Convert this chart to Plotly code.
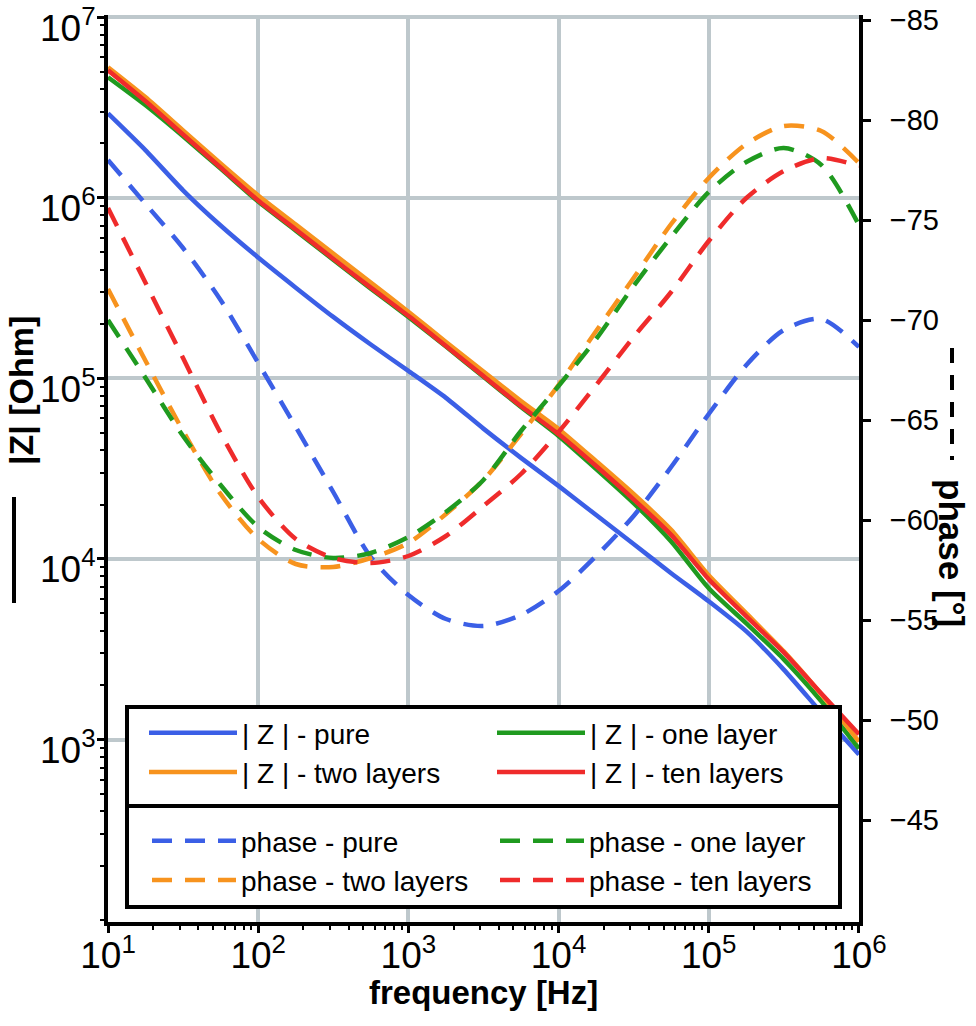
import math
import plotly.graph_objects as go

# ---------------- data ----------------
freq = [10, 17.8, 31.6, 56.2, 100, 178, 316, 562, 1000, 1780, 3160, 5620,
        1e4, 1.78e4, 3.16e4, 5.62e4, 1e5, 1.78e5, 3.16e5, 5.62e5, 1e6]

z_pure = [2.93e6, 1.83e6, 1.10e6, 7.02e5, 4.67e5, 3.18e5, 2.19e5, 1.54e5, 1.10e5, 7.80e4, 5.27e4,
          3.63e4, 2.54e4, 1.75e4, 1.21e4, 8.34e3, 5.83e3, 3.97e3, 2.44e3, 1.41e3, 826]
z_one = [4.65e6, 3.25e6, 2.19e6, 1.45e6, 9.53e5, 6.58e5, 4.54e5, 3.14e5, 2.19e5, 1.50e5, 1.02e5,
         6.95e4, 4.80e4, 3.15e4, 2.04e4, 1.25e4, 6.89e3, 4.40e3, 2.78e3, 1.63e3, 891]
z_two = [5.28e6, 3.60e6, 2.36e6, 1.55e6, 1.03e6, 7.11e5, 4.91e5, 3.39e5, 2.34e5, 1.59e5, 1.09e5,
         7.50e4, 5.25e4, 3.48e4, 2.29e4, 1.45e4, 8.13e3, 5.00e3, 3.08e3, 1.78e3, 975]
z_ten = [5.08e6, 3.42e6, 2.24e6, 1.47e6, 9.66e5, 6.67e5, 4.60e5, 3.18e5, 2.22e5, 1.51e5, 1.03e5,
         7.03e4, 4.92e4, 3.27e4, 2.14e4, 1.36e4, 7.72e3, 4.81e3, 3.04e3, 1.80e3, 1.07e3]

ph_pure = [-78.0, -75.8, -73.6, -71.0, -67.85, -64.65, -61.4, -58.15, -56.25, -55.05, -54.7,
           -55.25, -56.45, -58.2, -60.2, -62.65, -65.3, -67.75, -69.5, -70.05, -68.65]
ph_one = [-70.0, -67.1, -64.2, -61.75, -59.65, -58.5, -58.1, -58.35, -59.15, -60.4, -62.0,
          -64.45, -66.7, -69.05, -71.7, -74.15, -76.4, -77.9, -78.6, -77.75, -74.75]
ph_two = [-71.55, -67.95, -64.45, -61.3, -59.05, -57.8, -57.65, -58.1, -58.85, -60.3, -62.0,
          -64.3, -66.75, -69.45, -72.1, -74.8, -77.1, -78.8, -79.7, -79.45, -77.85]
ph_ten = [-75.6, -71.85, -68.1, -64.35, -61.15, -59.05, -58.1, -57.85, -58.2, -59.2, -60.7,
          -62.3, -64.4, -66.75, -69.15, -71.4, -73.95, -76.1, -77.45, -78.1, -77.7]

x_tickvals = [10, 100, 1000, 1e4, 1e5, 1e6]
x_ticktext = ["10<sup>1</sup>", "10<sup>2</sup>", "10<sup>3</sup>", "10<sup>4</sup>", "10<sup>5</sup>", "10<sup>6</sup>"]
y_tickvals = [1e3, 1e4, 1e5, 1e6, 1e7]
y_ticktext = ["10<sup>3</sup>", "10<sup>4</sup>", "10<sup>5</sup>", "10<sup>6</sup>", "10<sup>7</sup>"]
ph_tickvals = [-85, -80, -75, -70, -65, -60, -55, -50, -45]

# ---------------- style ----------------
FONT = "Liberation Sans, Arial, sans-serif"
BLUE, GREEN, ORANGE, RED = "#3b5fe6", "#1f9a1f", "#f7931e", "#ef2b2b"
GRID = "#bec8cc"
DASH = "20px,13px"

fig = go.Figure()

z_series = [("| Z | - pure", z_pure, BLUE, 1), ("| Z | - one layer", z_one, GREEN, 2),
            ("| Z | - two layers", z_two, ORANGE, 3), ("| Z | - ten layers", z_ten, RED, 4)]
for name, vals, col, rank in z_series:
    fig.add_trace(go.Scatter(x=freq, y=vals, name=name, mode="lines", legend="legend",
                             legendrank=rank,
                             line=dict(color=col, width=4.5, shape="spline", smoothing=0.6)))

ph_series = [("phase - pure", ph_pure, BLUE, 1), ("phase - two layers", ph_two, ORANGE, 3),
             ("phase - one layer", ph_one, GREEN, 2), ("phase - ten layers", ph_ten, RED, 4)]
for name, vals, col, rank in ph_series:
    fig.add_trace(go.Scatter(x=freq, y=vals, name=name, mode="lines", yaxis="y2", legend="legend2",
                             legendrank=rank,
                             line=dict(color=col, width=4.5, dash=DASH, shape="spline", smoothing=0.8)))

W, H = 976, 1026
PL, PR, PT, PB = 108, 859, 15, 922          # plot area in pixels
L, T, R, B = PL, PT, W - PR, H - PB
pw, ph = W - L - R, H - T - B


def px(xr):
    return (xr - L) / pw


def py(yr):
    return (H - B - yr) / ph


axis_common = dict(showline=True, linecolor="black", linewidth=4, ticks="outside", ticklen=7,
                   tickwidth=3, tickcolor="black", zeroline=False, ticklabeloverflow="allow",
                   tickfont=dict(family=FONT, size=37, color="black"))

fig.update_layout(
    width=W, height=H, margin=dict(l=L, r=R, t=T, b=B, autoexpand=False),
    paper_bgcolor="white", plot_bgcolor="white",
    font=dict(family=FONT, color="black"),
    xaxis=dict(type="log", range=[1, 6.0005], showgrid=True, gridcolor=GRID, gridwidth=4,
               tickmode="array", tickvals=x_tickvals, ticktext=x_ticktext, ticklabelstandoff=-9,
               minor=dict(ticks="outside", ticklen=4, tickwidth=2, tickcolor="black",
                          showgrid=False, dtick="D1"),
               **axis_common),
    yaxis=dict(type="log", range=[1.99, 7.012], showgrid=True, gridcolor=GRID, gridwidth=4,
               tickmode="array", tickvals=y_tickvals, showticklabels=False,
               minor=dict(ticks="outside", ticklen=4, tickwidth=2, tickcolor="black",
                          showgrid=False, dtick="D1"),
               **axis_common),
    yaxis2=dict(overlaying="y", side="right", anchor="x", range=[-39.9, -85.25],
                showgrid=False, showline=True, linecolor="black", linewidth=4,
                ticks="outside", ticklen=8, tickwidth=3, tickcolor="black", zeroline=False,
                tickmode="array", tickvals=ph_tickvals, ticklabelstandoff=13,
                ticklabeloverflow="allow",
                tickfont=dict(family=FONT, size=29, color="black")),
    yaxis3=dict(overlaying="y", side="right", anchor="x", range=[-39.9, -85.25],
                showgrid=False, showline=False, ticks="inside", ticklen=8, tickwidth=3,
                tickcolor="black", zeroline=False, showticklabels=False,
                tickmode="array", tickvals=ph_tickvals),
    legend=dict(x=px(144), y=py(708), xanchor="left", yanchor="top", orientation="h",
                entrywidth=245, entrywidthmode="pixels", itemwidth=88,
                bgcolor="rgba(0,0,0,0)", borderwidth=0,
                font=dict(family=FONT, size=28, color="black")),
    legend2=dict(x=px(147), y=py(816), xanchor="left", yanchor="top", orientation="h",
                 entrywidth=249, entrywidthmode="pixels", itemwidth=84,
                 bgcolor="rgba(0,0,0,0)", borderwidth=0,
                 font=dict(family=FONT, size=28, color="black")),
    showlegend=True,
)

# |Z| tick labels (placed a little below their ticks, as in the reference)
for v, t in zip(y_tickvals, y_ticktext):
    fig.add_annotation(text=t, xref="paper", yref="y", x=0, y=math.log10(v), xanchor="right",
                       yanchor="middle", xshift=-10, yshift=-8, showarrow=False,
                       font=dict(family=FONT, size=37, color="black"))

# legend frame (white box with separator)
fig.add_shape(type="rect", xref="paper", yref="paper", x0=px(127), x1=px(840), y0=py(907), y1=py(707),
              fillcolor="white", line=dict(color="black", width=4), layer="above")
fig.add_shape(type="line", xref="paper", yref="paper", x0=px(127), x1=px(840), y0=py(806), y1=py(806),
              line=dict(color="black", width=4), layer="above")

# axis titles with their line-style keys
fig.add_shape(type="line", xref="paper", yref="paper", x0=px(14), x1=px(14), y0=py(603), y1=py(497),
              line=dict(color="black", width=4))
fig.add_shape(type="line", xref="paper", yref="paper", x0=px(952), x1=px(952), y0=py(348), y1=py(460),
              line=dict(color="black", width=4, dash="15px,12px"))

fig.add_annotation(text="<b>|Z| [Ohm]</b>", xref="paper", yref="paper", x=px(21), y=py(391),
                   textangle=-90, showarrow=False, xanchor="center", yanchor="middle",
                   font=dict(family=FONT, size=34, color="black"))
fig.add_annotation(text="<b>phase [°]</b>", xref="paper", yref="paper", x=px(952), y=py(553),
                   textangle=90, showarrow=False, xanchor="center", yanchor="middle",
                   font=dict(family=FONT, size=35, color="black"))
fig.add_annotation(text="<b>frequency [Hz]</b>", xref="paper", yref="paper", x=0.5, y=py(992),
                   showarrow=False, xanchor="center", yanchor="middle",
                   font=dict(family=FONT, size=33, color="black"))

# remove the browser's default page margin so the figure sits at the window's corner
fig.write_html("out.html", config={"displayModeBar": False},
               post_script="document.body.style.margin='0px';")
